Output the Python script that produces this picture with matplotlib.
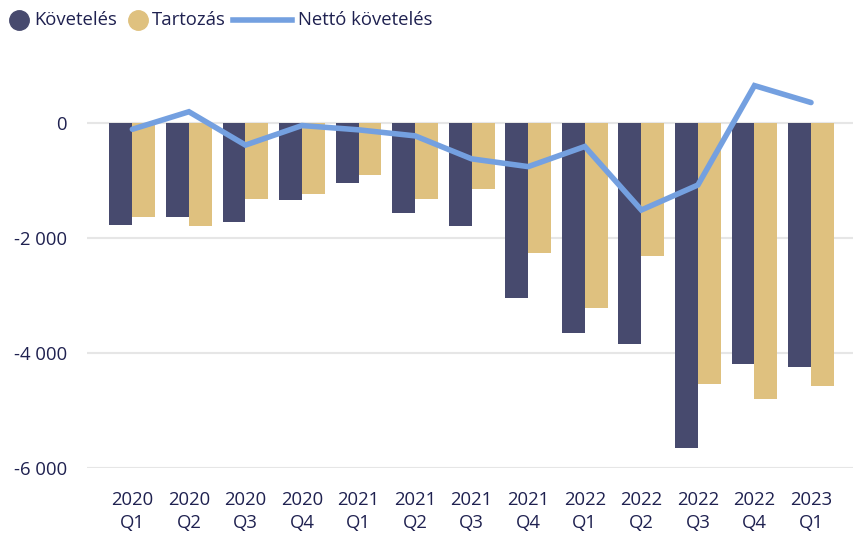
import numpy as np
import matplotlib.pyplot as plt
from matplotlib.lines import Line2D

# adatok (millió euró)
quarters = ["2020\nQ1", "2020\nQ2", "2020\nQ3", "2020\nQ4",
            "2021\nQ1", "2021\nQ2", "2021\nQ3", "2021\nQ4",
            "2022\nQ1", "2022\nQ2", "2022\nQ3", "2022\nQ4",
            "2023\nQ1"]
koveteles = [-1775, -1635, -1720, -1335, -1040, -1560, -1785, -3040,
             -3650, -3840, -5650, -4190, -4240]
tartozas = [-1630, -1800, -1315, -1245, -900, -1315, -1145, -2255,
            -3215, -2310, -4535, -4810, -4570]
netto = [-110, 195, -385, -45, -120, -225, -625, -760,
         -410, -1515, -1080, 650, 355]
yticks = [0, -2000, -4000, -6000]

text_col = "#1f2150"
c_kov = "#474a6e"
c_tar = "#dfc17f"
c_net = "#74a0e0"
fs = 13.3
plt.rcParams["font.family"] = ["Open Sans", "DejaVu Sans"]

W, H = 854, 542
fig = plt.figure(figsize=(W / 100, H / 100), dpi=100)
ax = fig.add_axes([0.102, 0.137, 0.898, 0.774])

x = np.arange(len(quarters))
w = 0.405
ax.bar(x - w / 2, koveteles, w, color=c_kov, zorder=2)
ax.bar(x + w / 2, tartozas, w, color=c_tar, zorder=2)
ax.plot(x, netto, color=c_net, lw=4, solid_capstyle="round",
        solid_joinstyle="miter", zorder=3)

ax.set_xlim(-0.8, 12.76)
ax.set_ylim(-6000, 1300)
ax.set_yticks(yticks)
ax.set_yticklabels([f"{v:,}".replace(",", " ") for v in yticks])
ax.set_xticks(x)
ax.set_xticklabels(quarters, linespacing=1.3)
ax.grid(axis="y", color="#e6e6e6", lw=1.5, zorder=0)
for s in ax.spines.values():
    s.set_visible(False)
ax.tick_params(length=0, labelsize=fs, colors=text_col)
ax.tick_params(axis="y", pad=14.4)
ax.tick_params(axis="x", pad=17)

# jelmagyarázat kézzel, pixelben megadva
def fx(px):
    return px / W

def fy(py):
    return 1 - py / H

ly = 20
fig.add_artist(Line2D([fx(19)], [fy(ly)], marker="o", ms=14, color=c_kov,
                      transform=fig.transFigure))
fig.text(fx(34), fy(ly), "Követelés", fontsize=fs, color=text_col, va="center")
fig.add_artist(Line2D([fx(138)], [fy(ly)], marker="o", ms=14, color=c_tar,
                      transform=fig.transFigure))
fig.text(fx(152), fy(ly), "Tartozás", fontsize=fs, color=text_col, va="center")
fig.add_artist(Line2D([fx(233), fx(292)], [fy(ly), fy(ly)], lw=4, color=c_net,
                      transform=fig.transFigure))
fig.text(fx(298), fy(ly), "Nettó követelés", fontsize=fs, color=text_col,
         va="center")

fig.savefig("out.png", dpi=100)
